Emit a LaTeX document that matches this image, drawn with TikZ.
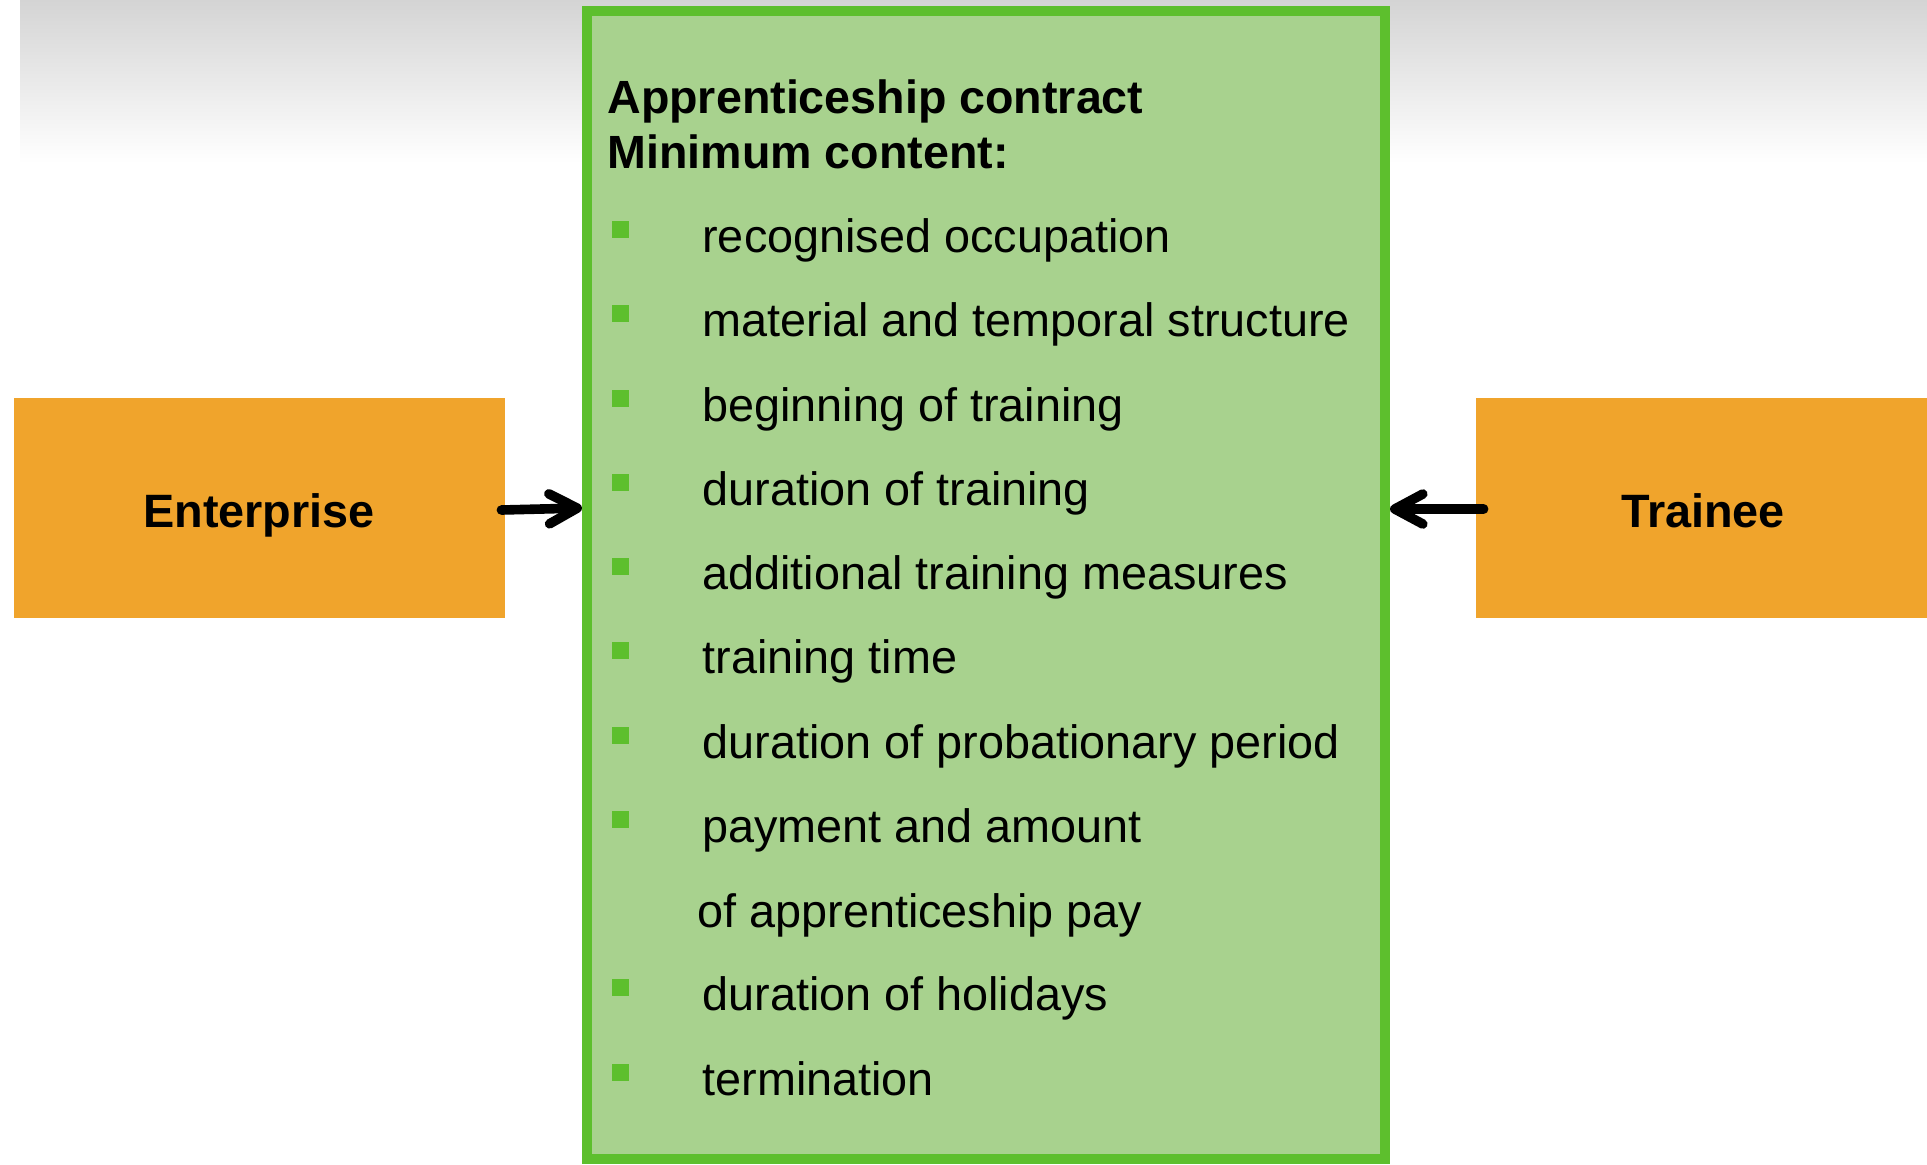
\documentclass[tikz,border=0pt]{standalone}
\usepackage{fontspec}
\setmainfont{Liberation Sans}
\usetikzlibrary{arrows.meta}
\definecolor{bandgray}{HTML}{D4D4D4}
\definecolor{boxgreen}{HTML}{5DBF2D}
\definecolor{fillgreen}{HTML}{A8D28E}
\definecolor{orangebox}{HTML}{F0A42C}
\tikzset{
  orangenode/.style={fill=orangebox, draw=none, minimum height=220*0.5pt, inner sep=0pt},
  sidetext/.style={anchor=base, inner sep=0pt, font=\bfseries\fontsize{23.4}{28}\selectfont},
  itemtext/.style={anchor=base west, inner sep=0pt, font=\fontsize{23.4}{28}\selectfont},
  titletext/.style={anchor=base west, inner sep=0pt, font=\bfseries\fontsize{23.3}{28}\selectfont},
  bulletsq/.style={fill=boxgreen, draw=none, minimum size=17*0.5pt, inner sep=0pt},
  arr/.style={line width=4.8pt, line cap=round, -{Straight Barb[length=14pt,width=15pt,round]}}
}
\begin{document}
\begin{tikzpicture}[x=0.5pt,y=-0.5pt]
\useasboundingbox (0,0) rectangle (1927,1164);
\fill[white] (0,0) rectangle (1927,1164);
\shade[top color=bandgray, bottom color=white] (20,0) rectangle (1927,163);
% main box
\node[draw=boxgreen, fill=fillgreen, line width=5pt, minimum width=798*0.5pt, minimum height=1148*0.5pt, inner sep=0pt] (box) at (986,585) {};
% title
\node[titletext] (t1) at (607,113) {Apprenticeship contract};
\node[titletext] (t2) at (607,168) {Minimum content:};
% items
\foreach \y/\txt [count=\i] in {252/recognised occupation, 336/material and temporal structure, 421/beginning of training, 505/duration of training, 589/additional training measures, 673/training time, 758/duration of probationary period, 842/payment and amount, 1010/duration of holidays, 1095/termination}{
  \node[bulletsq] (b\i) at (620,\y-23) {};
  \node[itemtext] (i\i) at (702,\y) {\txt};
}
\node[itemtext] (i8b) at (697,927) {of apprenticeship pay};
% side boxes
\node[orangenode, minimum width=491*0.5pt] (ent) at (259.5,508) {};
\node[sidetext] (entl) at (259,527) {Enterprise};
\node[orangenode, minimum width=451*0.5pt] (tr) at (1701.5,508) {};
\node[sidetext] (trl) at (1703,527) {Trainee};
% arrows
\draw[arr] ([xshift=-2pt,yshift=-1pt]ent.east) -- (box.west |- ent.east);
\draw[arr] ([xshift=4pt,yshift=-0.5pt]tr.west) -- ([yshift=-0.5pt]box.east |- tr.west);
\end{tikzpicture}
\end{document}
